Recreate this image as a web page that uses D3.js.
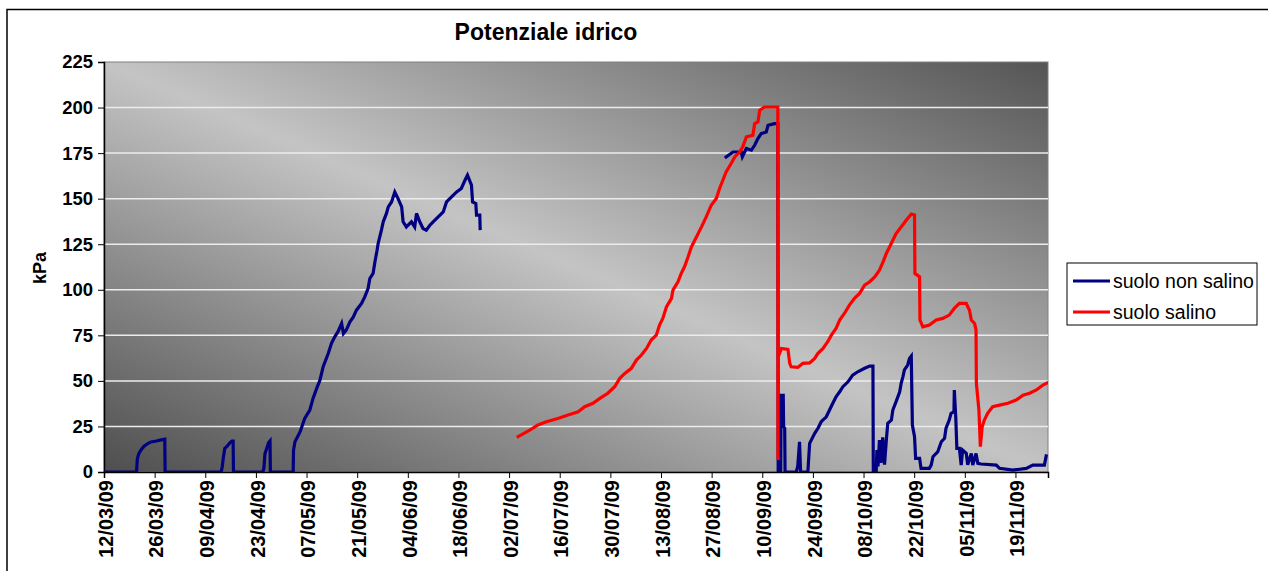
<!DOCTYPE html>
<html>
<head>
<meta charset="utf-8">
<script src="https://cdn.jsdelivr.net/npm/d3@7"></script>
<style>
  body { margin: 0; background: #fff; }
  text { font-family: "Liberation Sans", Arial, sans-serif; }
</style>
</head>
<body>
<script>
'use strict';

// days counted from 12/03/09
const startDate = new Date(2009, 2, 12);
const endDay = 261;
const yTicks = [0, 25, 50, 75, 100, 125, 150, 175, 200, 225];
const xTickDays = d3.range(0, 253, 14);

const seriesNames = ['suolo non salino', 'suolo salino'];
const seriesColors = ['#000080', '#ff0000'];

// suolo non salino (null = no data)
const blueDays = [0, 9.0, 9.2, 9.6, 10.2, 11, 12, 13, 14.5, 15.5, 16.8, 16.9,
  32.4, 32.7, 33.0, 33.4, 34.0, 34.8, 35.4, 35.7, 35.8,
  43.9, 44.2, 44.5, 45.0, 45.5, 45.9, 46.0,
  52.3, 52.4, 52.8, 54.2, 55.5, 56.9, 57.8, 58.8, 59.7, 60.6, 62, 62.9, 63.8, 64.7, 65.7, 66.2,
  67, 68, 68.9, 69.8, 71.2, 72.1, 73, 73.5, 74.4, 74.9, 75.5, 75.8, 76.7, 77.2, 78.1, 78.6,
  79.5, 80.4, 81.3, 82.3, 82.7, 83.6, 85, 85.9, 86.4, 87.3, 88.2, 89.1, 90.1, 91, 92.4, 93.8,
  94.7, 96.1, 97.5, 98.8, 99.8, 100.5, 101.6, 101.9, 102.8, 103, 103.9, 104.0,
  140,
  172, 173.9, 176.2, 176.5, 177.6, 179, 179.9, 180.8, 181.7, 183.1, 183.6, 185.4, 186.3,
  186.4, 187.1, 187.2, 187.8, 187.9, 188.2, 188.3, 191.4, 191.8, 192.3, 192.6, 194.6,
  195.1, 196.5, 197.4, 198.3, 199.7, 200.6, 201.5, 202.4, 203.4, 204.3, 205.7, 207, 208.4,
  210.3, 211.7, 212.6, 212.7, 213.5, 213.7, 214.0, 214.4, 214.8, 215.3, 215.8, 216.3, 216.7,
  217.7, 218.1, 219, 220, 220.4, 220.9, 221.3, 222.2, 222.7, 223.2, 223.5, 224.1, 224.4,
  225.5, 225.9, 228.2, 228.7, 229.2, 230.5, 231.5, 232.4, 232.8, 233.7, 234.2, 235, 235.1,
  235.5, 235.8, 236.5, 237, 237.4, 238.4, 238.8, 239.8, 240.2, 241.1, 241.6, 242.5, 246.7,
  247.6, 251.3, 255, 256.8, 260, 260.5];
const blueValues = [0, 0, 7, 10, 12, 14, 15.5, 16.5, 17, 17.5, 18, 0,
  0, 3, 8, 13, 14, 16, 17, 17, 0,
  0, 2, 10, 13, 16, 17, 0,
  0, 12, 16.6, 22, 29.4, 34, 40.4, 45.9, 50.4, 57.8, 65, 70.6, 74.2, 77, 81.5, 76,
  78, 82.4, 85, 88.8, 92.5, 96.1, 100.7, 106.2, 109, 115.3, 121.7, 125.4, 132.7, 137.3, 141.9, 145.5,
  148.2, 153.7, 150, 145.5, 137.3, 134.5, 137.3, 134.5, 141.9, 137.3, 133.6, 132.7, 135.4, 137.3, 140, 142.7,
  148.2, 151, 153.7, 155.6, 160.1, 162.9, 157.4, 148.2, 147.3, 141, 141, 133.6,
  null,
  172.9, 175.6, 175.6, 173, 177.5, 176.6, 179.3, 183, 185.7, 186.6, 190.3, 191.2, 191.2,
  0, 0, 42, 42, 25, 24, 0, 0, 3, 16.6, 0, 0,
  15.7, 21.2, 24, 27.6, 30.3, 34, 37.7, 41.3, 44, 46.8, 49.5, 53.2, 55,
  56.9, 58.1, 58.1, 0, 0, 12, 3, 17.5, 5, 19, 4, 17.5, 26.7,
  28.5, 34, 38.6, 44, 48.6, 52.3, 56, 58.7, 62.3, 63.6, 25.8, 19.4, 7.5,
  7.5, 2, 2, 3.8, 8.4, 11, 16.6, 18.5, 24, 28.5, 32.2, 33, 45,
  30, 13, 13, 3.8, 12, 10.2, 4, 10.2, 3.8, 10.2, 4.7, 4.4, 3.8,
  2, 1, 2, 3.8, 3.8, 8.8];

// suolo salino
const redDays = [114.5, 117.7, 120, 122.3, 125.5, 128.3, 131.1, 132.9, 135.2, 137.1, 139.3,
  141.2, 142.6, 144, 145.8, 147.2, 148.6, 150, 151.3, 152.7, 153.6, 154.5, 155.5, 156.9,
  157.3, 158.7, 159.6, 160.5, 161.5, 162.4, 163.8, 165.2, 166.5, 167.9, 169.3, 170.2, 171.1,
  172, 173.4, 174.4, 175.7, 176.6, 177.6, 179.4, 179.9, 180.8, 181.3, 182.6, 186.3, 186.35,
  186.4, 187.3, 189.1, 189.6, 190, 191.8, 193.2, 195.1, 196.5, 197.4, 198.8, 200.1, 201.1,
  202.4, 203.4, 204.7, 206.1, 207.5, 208.9, 210.3, 211.7, 213.1, 214.4, 215.4, 216.3, 217.2,
  218.1, 219, 220.4, 221.8, 223.2, 224.1, 224.2, 225.5, 225.6, 226.4, 228.2, 230.1, 231.9,
  233.7, 235.1, 236.5, 238.4, 239.3, 239.8, 240.7, 241.1, 241.2, 241.9, 242.3, 242.8, 243.4,
  244.3, 245.7, 247.6, 249.9, 252.2, 254.1, 255.9, 257.8, 259.6, 260.9];
const redValues = [19.4, 23, 25.8, 27.6, 29.4, 31.3, 33, 35.8, 37.7, 40.4, 43.2,
  46.8, 51.4, 54.1, 56.9, 61.4, 64.2, 67.8, 72.4, 75.1, 80.6, 84.3, 90.6, 95.3,
  99.8, 104.4, 109, 112.6, 118.1, 123.5, 129, 134.5, 140, 146.4, 150.1, 155.6, 160.1,
  164.7, 169.3, 172.9, 175.6, 178.4, 183.9, 184.8, 191.2, 192.1, 198.5, 200.3, 200.3, 6.6,
  63.2, 67.8, 67.3, 59.6, 57.7, 57.4, 59.6, 59.9, 62.3, 65.1, 67.8, 71.5, 75.1,
  78.8, 83.4, 87, 91.6, 95.3, 98, 102.5, 104.4, 107.1, 110.8, 115.3, 119.9, 123.5,
  127.2, 130.9, 134.5, 138.2, 141.5, 141, 109, 107.1, 83.4, 79.7, 80.6, 83.4, 84.3,
  86.1, 89.8, 92.5, 92.5, 88.8, 83.4, 81.5, 77.9, 48.6, 34, 13.9, 24.8, 28.5,
  32.2, 35.8, 36.7, 37.7, 39.5, 42.2, 43.2, 45, 47.7, 49];

(function () {

  let svg = "";
  let plot = { left: 104, right: 1048, top: 62, bottom: 472 };

  window.onload = function () {
    svg = d3.select('body')
      .append('svg')
      .attr('width', 1268)
      .attr('height', 571);

    makeChart();
  }

  function dayToDate(d) {
    return new Date(startDate.getTime() + d * 864e5);
  }

  function makeChart() {
    // outer chart border
    svg.append('rect')
      .attr('x', 7).attr('y', 9.5)
      .attr('width', 1300).attr('height', 600)
      .attr('fill', 'white')
      .attr('stroke', 'black')
      .attr('stroke-width', 1.5);

    let defs = svg.append('defs');
    let grad = defs.append('linearGradient')
      .attr('id', 'bg')
      .attr('x1', 0).attr('y1', 1)
      .attr('x2', 1).attr('y2', 0);
    grad.append('stop').attr('offset', 0).attr('stop-color', '#4e4e4e');
    grad.append('stop').attr('offset', 0.5).attr('stop-color', '#c4c4c4');
    grad.append('stop').attr('offset', 1).attr('stop-color', '#555555');

    defs.append('clipPath').attr('id', 'clip')
      .append('rect')
      .attr('x', plot.left).attr('y', plot.top - 2)
      .attr('width', plot.right - plot.left).attr('height', plot.bottom - plot.top + 2);

    svg.append('rect')
      .attr('x', plot.left).attr('y', plot.top)
      .attr('width', plot.right - plot.left)
      .attr('height', plot.bottom - plot.top)
      .attr('fill', 'url(#bg)')
      .attr('stroke', '#808080')
      .attr('stroke-width', 1);

    let xScale = d3.scaleTime()
      .domain([dayToDate(0), dayToDate(endDay)])
      .range([plot.left, plot.right]);

    let yScale = d3.scaleLinear()
      .domain([0, 225])
      .range([plot.bottom, plot.top]);

    // gridlines
    svg.append('g')
      .selectAll('line')
      .data(yTicks.filter(d => d > 0 && d < 225))
      .enter()
      .append('line')
      .attr('x1', plot.left).attr('x2', plot.right)
      .attr('y1', d => yScale(d)).attr('y2', d => yScale(d))
      .attr('stroke', '#ececec')
      .attr('stroke-width', 1.5);

    drawAxes(xScale, yScale);
    plotData(xScale, yScale);
    makeLabels();
    makeLegend();
  }

  function drawAxes(xScale, yScale) {
    let yAxis = d3.axisLeft(yScale)
      .tickValues(yTicks)
      .tickSize(6)
      .tickPadding(5);
    let gy = svg.append('g')
      .attr('transform', 'translate(' + plot.left + ',0)')
      .call(yAxis);
    gy.select('.domain').attr('stroke', 'black').attr('stroke-width', 1.5);
    gy.selectAll('text')
      .style('font-size', '18.5px')
      .style('font-weight', 'bold')
      .attr('fill', 'black');

    let xAxis = d3.axisBottom(xScale)
      .tickValues(xTickDays.map(dayToDate))
      .tickSize(6)
      .tickFormat(d3.timeFormat('%d/%m/%y'));
    let gx = svg.append('g')
      .attr('transform', 'translate(0,' + plot.bottom + ')')
      .call(xAxis);
    gx.select('.domain').attr('stroke', 'black').attr('stroke-width', 1.5);
    gx.selectAll('text')
      .attr('transform', 'rotate(-90)')
      .attr('x', -8)
      .attr('y', 1)
      .attr('dy', '0.36em')
      .style('text-anchor', 'end')
      .style('font-size', '20px')
      .style('font-weight', 'bold')
      .attr('fill', 'black');
  }

  function plotData(xScale, yScale) {
    let series = [
      blueDays.map((d, i) => ({ day: d, value: blueValues[i] })),
      redDays.map((d, i) => ({ day: d, value: redValues[i] }))
    ];

    const line = d3.line()
      .defined(d => d.value !== null)
      .x(d => xScale(dayToDate(d.day)))
      .y(d => yScale(d.value));

    svg.append('g')
      .attr('clip-path', 'url(#clip)')
      .selectAll('path')
      .data(series)
      .enter()
      .append('path')
      .attr('d', line)
      .attr('fill', 'none')
      .attr('stroke', (d, i) => seriesColors[i])
      .attr('stroke-width', 3.2)
      .attr('stroke-linejoin', 'miter')
      .attr('stroke-linecap', 'square');
  }

  // title and axis label
  function makeLabels() {
    svg.append('text')
      .attr('x', 546)
      .attr('y', 40)
      .style('text-anchor', 'middle')
      .style('font-size', '23px')
      .style('font-weight', 'bold')
      .text('Potenziale idrico');

    svg.append('text')
      .attr('transform', 'translate(46, 268)rotate(-90)')
      .style('text-anchor', 'middle')
      .style('font-size', '18px')
      .style('font-weight', 'bold')
      .text('kPa');
  }

  function makeLegend() {
    let lg = svg.append('g');
    lg.append('rect')
      .attr('x', 1067).attr('y', 263)
      .attr('width', 190).attr('height', 62)
      .attr('fill', 'white')
      .attr('stroke', 'black')
      .attr('stroke-width', 1);

    let rows = lg.selectAll('.row')
      .data(seriesNames)
      .enter()
      .append('g')
      .attr('transform', (d, i) => 'translate(1073,' + (281 + i * 31) + ')');

    rows.append('line')
      .attr('x1', 0).attr('x2', 37)
      .attr('stroke', (d, i) => seriesColors[i])
      .attr('stroke-width', 3);

    rows.append('text')
      .attr('x', 40)
      .attr('dy', '0.35em')
      .style('font-size', '19.5px')
      .text(d => d);
  }

})();
</script>
</body>
</html>
